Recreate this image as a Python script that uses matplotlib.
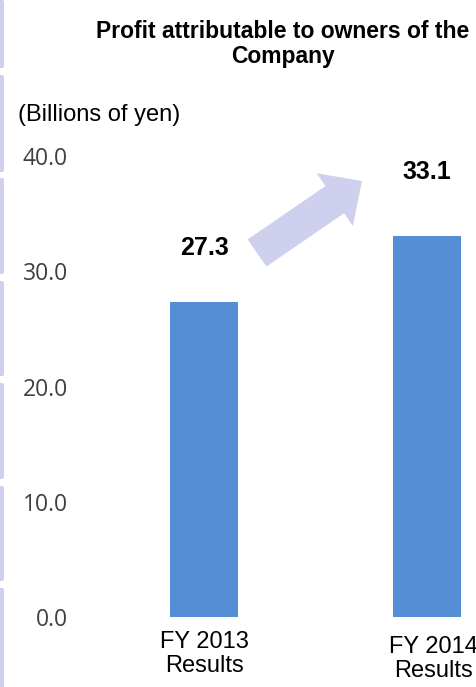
"""Profit attributable to owners of the Company, FY2013 vs FY2014."""

import matplotlib
matplotlib.use("Agg")
import matplotlib.pyplot as plt
from matplotlib.patches import FancyArrow, FancyBboxPatch
from matplotlib.transforms import ScaledTranslation

categories = ["FY 2013\nResults", "FY 2014\nResults"]
profit = [27.3, 33.1]
value_labels = ["27.3", "33.1"]
yticks = [0, 10, 20, 30, 40]
ytick_labels = ["0.0", "10.0", "20.0", "30.0", "40.0"]

W, H, DPI = 477, 687, 100
BAR = "#558ED5"
LAVENDER = "#CFD0EE"

fig = plt.figure(figsize=(W / DPI, H / DPI), dpi=DPI)

# overlay in pixel units (y downwards) for the decorative bits
deco = fig.add_axes([0, 0, 1, 1], zorder=0)
deco.set_xlim(0, W)
deco.set_ylim(H, 0)
deco.axis("off")
for y0, y1 in [(0, 68), (75, 172), (178, 274), (281, 376), (383, 479), (486, 581), (588, 690)]:
    deco.add_patch(FancyBboxPatch((-3, y0), 7, y1 - y0,
                                  boxstyle="round,pad=0,rounding_size=2",
                                  fc=LAVENDER, ec="none"))
deco.add_patch(FancyArrow(257, 253, 105, -72, width=33, head_width=64,
                          head_length=33, length_includes_head=True,
                          fc=LAVENDER, ec="none"))

# main chart
ax = fig.add_axes([72 / W, 70 / H, 1 - 72 / W, 461 / H], zorder=1)
ax.patch.set_alpha(0)
x = range(len(categories))
ax.bar(x, profit, width=0.305, color=BAR)
ax.set_xlim(-0.592, 1.224)
ax.set_ylim(0, 40)
for s in ax.spines.values():
    s.set_visible(False)

ax.set_yticks(yticks)
ax.set_yticklabels(ytick_labels, family="Open Sans", fontsize=16.5, color="#404040")
ax.set_xticks(list(x))
ax.set_xticklabels(categories, family="Liberation Sans", fontsize=17,
                   color="#000000", linespacing=1.12)
ax.tick_params(axis="both", length=0)
ax.tick_params(axis="y", pad=3)
ax.tick_params(axis="x", pad=10)
# second category label sits a little right and lower in the original
lbl = ax.get_xticklabels()[1]
lbl.set_transform(lbl.get_transform() + ScaledTranslation(0.06, -0.05, fig.dpi_scale_trans))

for i, (v, txt, off) in enumerate(zip(profit, value_labels, [39, 46])):
    ax.annotate(txt, (i, v), xytext=(0, off), textcoords="offset points",
                ha="center", va="center", family="Liberation Sans",
                fontweight="bold", fontsize=18)

fig.text(283 / W, 1 - 44 / H, "Profit attributable to owners of the\nCompany",
         ha="center", va="center", family="Liberation Sans", fontweight="bold",
         fontsize=16.5, linespacing=1.08)
fig.text(18 / W, 1 - 115 / H, "(Billions of yen)", ha="left", va="center",
         family="Liberation Sans", fontsize=17)

fig.savefig("out.png", dpi=DPI)
